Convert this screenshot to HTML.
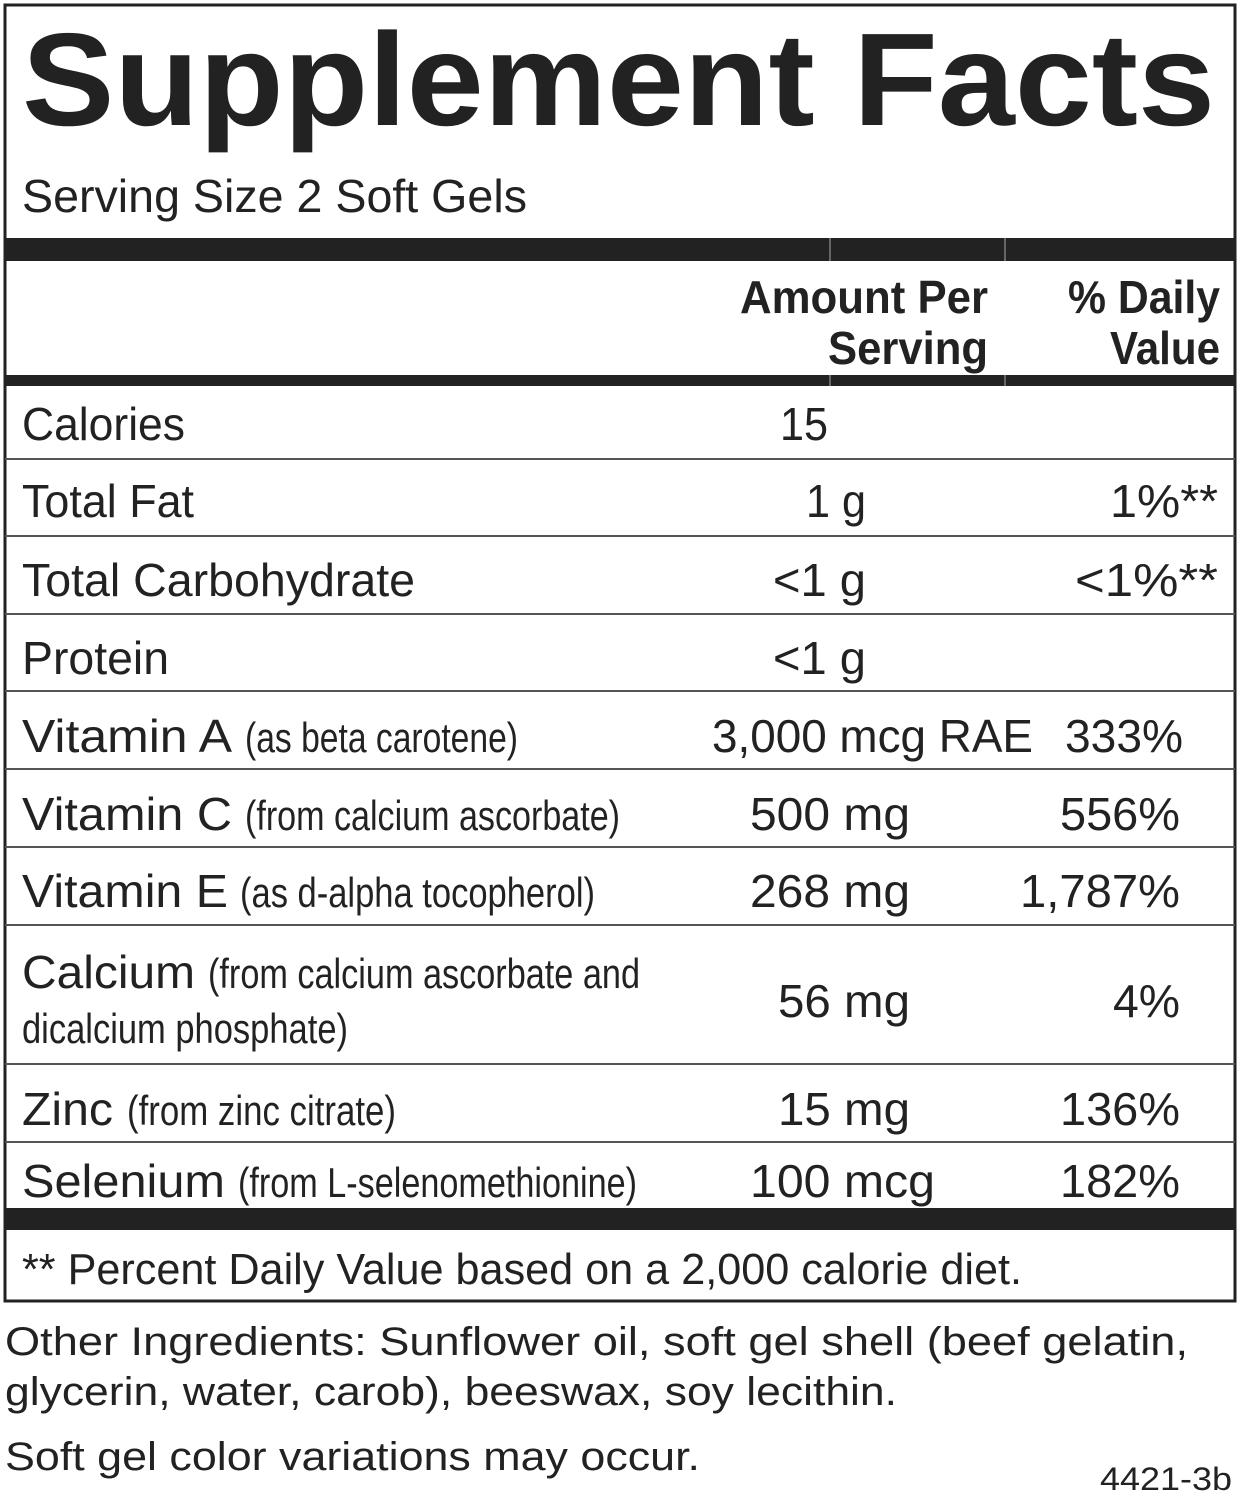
<!DOCTYPE html>
<html><head><meta charset="utf-8"><style>
html,body{margin:0;padding:0;background:#fff;}
svg{display:block;}
text{font-family:"Liberation Sans",sans-serif;fill:#222;}
</style></head><body>
<svg width="1242" height="1500" viewBox="0 0 1242 1500" xmlns="http://www.w3.org/2000/svg">
<rect x="0" y="0" width="1242" height="1500" fill="#fff"/>
<rect x="5" y="5" width="1230" height="1296" fill="none" stroke="#222" stroke-width="3"/>
<text x="22" y="125" font-size="132" font-weight="bold" textLength="1193" lengthAdjust="spacingAndGlyphs" fill="#1a1a1a">Supplement Facts</text>
<text x="22" y="212" font-size="46" textLength="505" lengthAdjust="spacingAndGlyphs">Serving Size 2 Soft Gels</text>
<rect x="5" y="238" width="1230" height="23" fill="#222"/>
<rect x="829" y="238" width="2" height="23" fill="#666"/>
<rect x="1004" y="238" width="2" height="23" fill="#666"/>
<text x="740" y="313" font-size="46" font-weight="bold" textLength="248" lengthAdjust="spacingAndGlyphs">Amount Per</text>
<text x="828" y="364" font-size="46" font-weight="bold" textLength="160" lengthAdjust="spacingAndGlyphs">Serving</text>
<text x="1068" y="313" font-size="46" font-weight="bold" textLength="152" lengthAdjust="spacingAndGlyphs">% Daily</text>
<text x="1110" y="364" font-size="46" font-weight="bold" textLength="110" lengthAdjust="spacingAndGlyphs">Value</text>
<rect x="5" y="375" width="1230" height="11" fill="#222"/>
<rect x="829" y="375" width="2" height="11" fill="#666"/>
<rect x="1004" y="375" width="2" height="11" fill="#666"/>
<g fill="#555">
<rect x="5" y="458" width="1230" height="2"/>
<rect x="5" y="535" width="1230" height="2"/>
<rect x="5" y="613" width="1230" height="2"/>
<rect x="5" y="690" width="1230" height="2"/>
<rect x="5" y="768" width="1230" height="2"/>
<rect x="5" y="846" width="1230" height="2"/>
<rect x="5" y="924" width="1230" height="2"/>
<rect x="5" y="1063" width="1230" height="2"/>
<rect x="5" y="1141" width="1230" height="2"/>
</g>
<g font-size="46">
<text x="22" y="440" textLength="163" lengthAdjust="spacingAndGlyphs">Calories</text>
<text x="780" y="440" textLength="48" lengthAdjust="spacingAndGlyphs">15</text>
<text x="22" y="517" textLength="172" lengthAdjust="spacingAndGlyphs">Total Fat</text>
<text x="806" y="517" textLength="60" lengthAdjust="spacingAndGlyphs">1 g</text>
<text x="1110" y="517" textLength="108" lengthAdjust="spacingAndGlyphs">1%**</text>
<text x="22" y="596" textLength="393" lengthAdjust="spacingAndGlyphs">Total Carbohydrate</text>
<text x="773" y="596" textLength="93" lengthAdjust="spacingAndGlyphs">&lt;1 g</text>
<text x="1075" y="596" textLength="143" lengthAdjust="spacingAndGlyphs">&lt;1%**</text>
<text x="22" y="674" textLength="147" lengthAdjust="spacingAndGlyphs">Protein</text>
<text x="773" y="674" textLength="93" lengthAdjust="spacingAndGlyphs">&lt;1 g</text>
<text x="22" y="752" textLength="210" lengthAdjust="spacingAndGlyphs">Vitamin A</text>
<text x="712" y="752" textLength="321" lengthAdjust="spacingAndGlyphs">3,000 mcg RAE</text>
<text x="1065" y="752" textLength="118" lengthAdjust="spacingAndGlyphs">333%</text>
<text x="22" y="830" textLength="210" lengthAdjust="spacingAndGlyphs">Vitamin C</text>
<text x="750" y="830" textLength="160" lengthAdjust="spacingAndGlyphs">500 mg</text>
<text x="1060" y="830" textLength="120" lengthAdjust="spacingAndGlyphs">556%</text>
<text x="22" y="907" textLength="206" lengthAdjust="spacingAndGlyphs">Vitamin E</text>
<text x="750" y="907" textLength="160" lengthAdjust="spacingAndGlyphs">268 mg</text>
<text x="1020" y="907" textLength="160" lengthAdjust="spacingAndGlyphs">1,787%</text>
<text x="22" y="988" textLength="173" lengthAdjust="spacingAndGlyphs">Calcium</text>
<text x="778" y="1017" textLength="132" lengthAdjust="spacingAndGlyphs">56 mg</text>
<text x="1113" y="1017" textLength="67" lengthAdjust="spacingAndGlyphs">4%</text>
<text x="22" y="1125" textLength="91" lengthAdjust="spacingAndGlyphs">Zinc</text>
<text x="778" y="1125" textLength="132" lengthAdjust="spacingAndGlyphs">15 mg</text>
<text x="1060" y="1125" textLength="120" lengthAdjust="spacingAndGlyphs">136%</text>
<text x="22" y="1197" textLength="203" lengthAdjust="spacingAndGlyphs">Selenium</text>
<text x="750" y="1197" textLength="185" lengthAdjust="spacingAndGlyphs">100 mcg</text>
<text x="1060" y="1197" textLength="120" lengthAdjust="spacingAndGlyphs">182%</text>
</g>
<g font-size="42">
<text x="245" y="752" textLength="273" lengthAdjust="spacingAndGlyphs">(as beta carotene)</text>
<text x="245" y="830" textLength="375" lengthAdjust="spacingAndGlyphs">(from calcium ascorbate)</text>
<text x="240" y="907" textLength="355" lengthAdjust="spacingAndGlyphs">(as d-alpha tocopherol)</text>
<text x="208" y="988" textLength="432" lengthAdjust="spacingAndGlyphs">(from calcium ascorbate and</text>
<text x="22" y="1043" textLength="326" lengthAdjust="spacingAndGlyphs">dicalcium phosphate)</text>
<text x="127" y="1125" textLength="269" lengthAdjust="spacingAndGlyphs">(from zinc citrate)</text>
<text x="238" y="1197" textLength="399" lengthAdjust="spacingAndGlyphs">(from L-selenomethionine)</text>
</g>
<rect x="5" y="1208" width="1230" height="22" fill="#222"/>
<text x="22" y="1284" font-size="44" textLength="1000" lengthAdjust="spacingAndGlyphs">** Percent Daily Value based on a 2,000 calorie diet.</text>
<g font-size="40">
<text x="5" y="1355" textLength="1183" lengthAdjust="spacingAndGlyphs">Other Ingredients: Sunflower oil, soft gel shell (beef gelatin,</text>
<text x="5" y="1405" textLength="892" lengthAdjust="spacingAndGlyphs">glycerin, water, carob), beeswax, soy lecithin.</text>
<text x="5" y="1470" textLength="695" lengthAdjust="spacingAndGlyphs">Soft gel color variations may occur.</text>
</g>
<text x="1100" y="1490" font-size="32" textLength="132" lengthAdjust="spacingAndGlyphs">4421-3b</text>
</svg>
</body></html>
